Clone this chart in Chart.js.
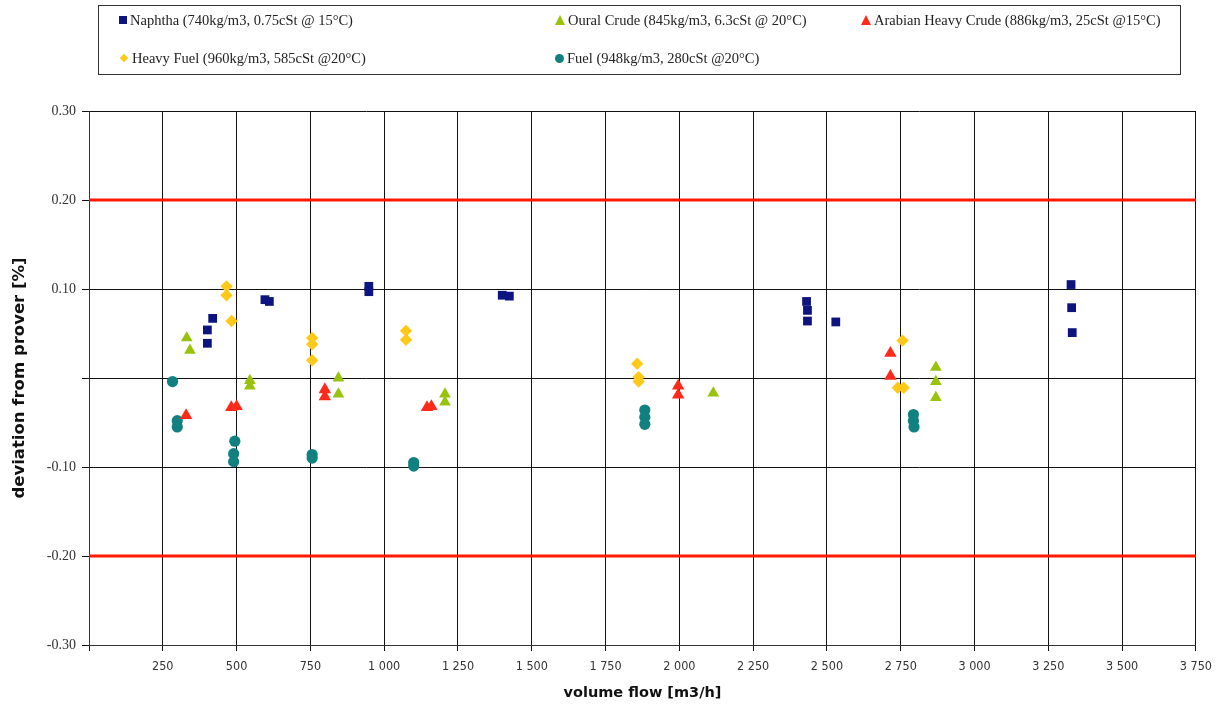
<!DOCTYPE html>
<html>
<head>
<meta charset="utf-8">
<script src="https://cdn.jsdelivr.net/npm/chart.js@4.4.1/dist/chart.umd.min.js"></script>
<style>
  body { margin: 0; background: #ffffff; }
  #wrap { position: relative; width: 1220px; height: 706px; }
  #legend {
    position: absolute; left: 98px; top: 5px; width: 1083px; height: 70px;
    border: 1px solid #333; box-sizing: border-box;
    display: grid; grid-template-columns: 436px 306px auto;
    grid-template-rows: 28px 28px; row-gap: 10px; padding: 0 0 0 20px;
    font-family: "Liberation Serif", serif;
    font-size: 14.5px; color: #222;
  }
  .item { display: flex; align-items: center; white-space: nowrap; }
  .mk { display: inline-block; margin-right: 3px; }
</style>
</head>
<body>
<div id="wrap">
  <canvas id="chart" width="1220" height="706"></canvas>
  <div id="legend"></div>
</div>
<script>
const naphtha = [
  [419, 0.067], [401, 0.054], [401, 0.039], [596, 0.088], [611, 0.086],
  [948, 0.103], [948, 0.097], [1400, 0.093], [1424, 0.092],
  [2431, 0.086], [2434, 0.076], [2434, 0.064], [2530, 0.063],
  [3327, 0.105], [3329, 0.079], [3331, 0.051]
];
const ouralCrude = [
  [331, 0.045], [342, 0.031], [545, -0.003], [545, -0.009],
  [845, 0.000], [845, -0.018], [1206, -0.018], [1206, -0.027],
  [2115, -0.017], [2869, 0.012], [2869, -0.004], [2869, -0.022]
];
const arabianHeavy = [
  [329, -0.042], [482, -0.033], [500, -0.032], [799, -0.013], [799, -0.021],
  [1145, -0.033], [1160, -0.032], [1996, -0.009], [1996, -0.019],
  [2715, 0.028], [2715, 0.002]
];
const heavyFuel = [
  [466, 0.103], [466, 0.093], [483, 0.064], [756, 0.045], [756, 0.038], [756, 0.020],
  [1074, 0.053], [1074, 0.043], [1857, 0.016], [1862, 0.001], [1862, -0.004],
  [2756, 0.042], [2740, -0.011], [2760, -0.011]
];
const fuel = [
  [283, -0.004], [299, -0.048], [299, -0.055], [494, -0.071], [490, -0.085], [490, -0.094],
  [756, -0.086], [756, -0.090], [1100, -0.095], [1100, -0.099],
  [1883, -0.036], [1883, -0.044], [1883, -0.052],
  [2793, -0.041], [2793, -0.048], [2795, -0.055]
];
const limitUpper = [[0, 0.2], [3750, 0.2]];
const limitLower = [[0, -0.2], [3750, -0.2]];

const seriesLabels = [
  'Naphtha (740kg/m3, 0.75cSt @ 15°C)',
  'Oural Crude (845kg/m3, 6.3cSt @ 20°C)',
  'Arabian Heavy Crude (886kg/m3, 25cSt @15°C)',
  'Heavy Fuel (960kg/m3, 585cSt @20°C)',
  'Fuel (948kg/m3, 280cSt @20°C)'
];
const seriesData = [naphtha, ouralCrude, arabianHeavy, heavyFuel, fuel];
const seriesColors = ['#0d1480', '#99c20a', '#ff2a1a', '#ffc91a', '#108080'];
const seriesShapes = ['rect', 'triangle', 'triangle', 'rectRot', 'circle'];
const seriesRadius = [6.2, 6.8, 7.2, 6.2, 5.6];

const toXY = arr => arr.map(p => ({ x: p[0], y: p[1] }));

const datasets = seriesData.map((d, i) => ({
  type: 'scatter',
  label: seriesLabels[i],
  data: toXY(d),
  pointStyle: seriesShapes[i],
  pointRadius: seriesRadius[i],
  backgroundColor: seriesColors[i],
  borderColor: seriesColors[i],
  borderWidth: 0
}));
[limitUpper, limitLower].forEach(l => {
  datasets.push({
    type: 'line',
    label: '',
    data: toXY(l),
    borderColor: '#ff1a00',
    borderWidth: 3,
    pointRadius: 0,
    fill: false
  });
});

const chart = new Chart(document.getElementById('chart'), {
  data: { datasets: datasets },
  options: {
    responsive: false,
    animation: false,
    layout: { padding: { top: 111, right: 22, left: 0, bottom: 0 } },
    plugins: { legend: { display: false }, tooltip: { enabled: false } },
    scales: {
      x: {
        type: 'linear', min: 0, max: 3750,
        grid: { color: '#111', lineWidth: 1, tickLength: 6 },
        border: { color: '#333', width: 1 },
        ticks: {
          stepSize: 250, color: '#333', maxRotation: 0, padding: 8,
          font: { family: '"DejaVu Sans Condensed", sans-serif', size: 12.5 },
          callback: v => v === 0 ? '' : v.toLocaleString('fr-FR').replace(/\s/g, ' ')
        },
        title: {
          display: true, text: 'volume flow [m3/h]', color: '#111',
          font: { family: '"DejaVu Sans", sans-serif', size: 14.5, weight: 'bold' }, padding: { top: 5 }
        },
        afterFit: s => { s.height = 61; }
      },
      y: {
        type: 'linear', min: -0.3, max: 0.3,
        grid: { color: '#111', lineWidth: 1, tickLength: 7 },
        border: { color: '#333', width: 1 },
        ticks: {
          stepSize: 0.1, color: '#333', padding: 6,
          font: { family: '"Liberation Serif", serif', size: 14 },
          callback: v => Math.abs(v) < 1e-9 ? '' : v.toFixed(2)
        },
        title: {
          display: true, text: 'deviation from prover [%]', color: '#111',
          font: { family: '"DejaVu Sans", sans-serif', size: 16.5, weight: 'bold' }, padding: { top: 10 }
        },
        afterFit: s => { s.width = 89; }
      }
    }
  }
});

// html legend built from the chart's own datasets
const legendEl = document.getElementById('legend');
seriesData.forEach((d, i) => {
  const ds = chart.data.datasets[i];
  const item = document.createElement('div');
  item.className = 'item';
  const mk = document.createElement('span');
  mk.className = 'mk';
  const c = ds.backgroundColor;
  if (ds.pointStyle === 'rect') {
    mk.style.cssText = `width:8px;height:8px;background:${c};`;
  } else if (ds.pointStyle === 'triangle') {
    mk.style.cssText = `width:0;height:0;border-left:5px solid transparent;border-right:5px solid transparent;border-bottom:10px solid ${c};`;
  } else if (ds.pointStyle === 'rectRot') {
    mk.style.cssText = `width:6px;height:6px;background:${c};transform:rotate(45deg);margin-left:2px;margin-right:5px;`;
  } else {
    mk.style.cssText = `width:9px;height:9px;border-radius:50%;background:${c};`;
  }
  item.appendChild(mk);
  item.appendChild(document.createTextNode(ds.label));
  legendEl.appendChild(item);
});
</script>
</body>
</html>
